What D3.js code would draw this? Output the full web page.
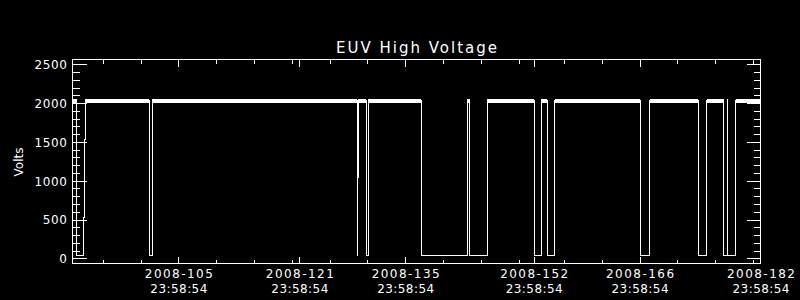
<!DOCTYPE html>
<html>
<head>
<meta charset="utf-8">
<script src="https://cdn.jsdelivr.net/npm/d3@7"></script>
<style>
  html, body { margin: 0; padding: 0; background: #000; }
  svg { display: block; }
  text { font-family: "DejaVu Sans", sans-serif; fill: #fff; }
</style>
</head>
<body>
<svg id="chart" width="800" height="300"></svg>
<script>
// ---- data (day-of-year 2008, fractional) ----
const title = "EUV High Voltage";
const yLabel = "Volts";
const stepTimes  = [92.0, 92.595, 93.429, 93.561, 93.694, 102.161, 102.558, 129.68, 129.70, 129.81,
                    130.873, 131.138, 138.150, 144.236, 144.554, 146.882, 153.101, 154.027, 154.821,
                    155.800, 167.125, 168.369, 174.799, 175.858, 178.107, 178.597, 178.663, 179.749, 183.0];
const stepValues = [2030, 40, 530, 1525, 2030, 40, 2030, 40, 1040, 2030,
                    40, 2030, 40, 2030, 40, 2030, 40, 2030, 40,
                    2030, 40, 2030, 40, 2030, 40, 2030, 40, 2030, 2030];
const bandLow = 2005, bandHigh = 2053;   // spread of the noisy high-voltage level
const xDomain = [92.0, 183.0];
const yDomain = [-67, 2562];
const xMajorTicks = [105.9993, 121.9993, 135.9993, 152.9993, 166.9993, 182.9993];
const xMajorLabels = ["2008-105", "2008-121", "2008-135", "2008-152", "2008-166", "2008-182"];
const xTimeLabel = "23:58:54";
const xMinorTicks = [96, 101, 106, 111, 116, 121, 126, 131, 136, 141, 146, 151, 157, 162, 167, 172, 177, 182];
const yMajorTicks = [0, 500, 1000, 1500, 2000, 2500];
const yMinorTicks = d3.range(0, 2501, 100).filter(v => v % 500 !== 0);

// ---- layout ----
const L = 72.5, R = 760.5, T = 59.5, B = 263.5;
const svg = d3.select("#chart");
svg.append("rect").attr("width", 800).attr("height", 300).attr("fill", "#000");

const x = d3.scaleLinear().domain(xDomain).range([L, R]);
const y = d3.scaleLinear().domain(yDomain).range([B, T]);

// ---- data ----
const pts = stepTimes.map((t, i) => ({ t, v: stepValues[i] }));
const bands = [];
for (let i = 0; i < pts.length - 1; i++) {
  if (pts[i].v >= 2000) bands.push({ t0: pts[i].t, t1: pts[i + 1].t });
}
svg.append("g").selectAll("rect").data(bands).join("rect")
  .attr("x", d => x(d.t0)).attr("width", d => Math.max(1, x(d.t1) - x(d.t0)))
  .attr("y", y(bandHigh)).attr("height", y(bandLow) - y(bandHigh))
  .attr("fill", "#fff").attr("shape-rendering", "crispEdges");

const line = d3.line().x(d => x(d.t)).y(d => y(d.v)).curve(d3.curveStepAfter);
svg.append("path").datum(pts).attr("d", line)
  .attr("fill", "none").attr("stroke", "#fff").attr("stroke-width", 1)
  .attr("shape-rendering", "crispEdges");

// ---- axes ----
function style(g) {
  g.select(".domain").remove();
  g.selectAll("line").attr("stroke", "#fff").attr("shape-rendering", "crispEdges");
  g.selectAll("text").remove();
}
// left
svg.append("g").attr("transform", `translate(${L},0)`)
  .call(d3.axisLeft(y).tickValues(yMinorTicks).tickSize(-7).tickSizeOuter(0)).call(style);
const gl = svg.append("g").attr("transform", `translate(${L},0)`)
  .call(d3.axisLeft(y).tickValues(yMajorTicks).tickFormat(d3.format("d")).tickSize(-14).tickSizeOuter(0));
gl.select(".domain").remove();
gl.selectAll("line").attr("stroke", "#fff").attr("shape-rendering", "crispEdges");
gl.selectAll("text").attr("x", -5).attr("dy", "0.36em")
  .attr("font-family", "DejaVu Sans").attr("font-size", 12).attr("fill", "#fff")
  .attr("letter-spacing", "0.6px");
// right
svg.append("g").attr("transform", `translate(${R},0)`)
  .call(d3.axisRight(y).tickValues(yMinorTicks).tickSize(-7).tickSizeOuter(0)).call(style);
svg.append("g").attr("transform", `translate(${R},0)`)
  .call(d3.axisRight(y).tickValues(yMajorTicks).tickSize(-14).tickSizeOuter(0)).call(style);
// top
svg.append("g").attr("transform", `translate(0,${T})`)
  .call(d3.axisTop(x).tickValues(xMinorTicks).tickSize(-4).tickSizeOuter(0)).call(style);
svg.append("g").attr("transform", `translate(0,${T})`)
  .call(d3.axisTop(x).tickValues(xMajorTicks).tickSize(-7).tickSizeOuter(0)).call(style);
// bottom
svg.append("g").attr("transform", `translate(0,${B})`)
  .call(d3.axisBottom(x).tickValues(xMinorTicks).tickSize(-4).tickSizeOuter(0)).call(style);
const gb = svg.append("g").attr("transform", `translate(0,${B})`)
  .call(d3.axisBottom(x).tickValues(xMajorTicks).tickSize(-7).tickSizeOuter(0));
gb.select(".domain").remove();
gb.selectAll("line").attr("stroke", "#fff").attr("shape-rendering", "crispEdges");
gb.selectAll("text").remove();
gb.selectAll(".tick").each(function (d, i) {
  const g = d3.select(this);
  g.append("text").attr("x", 0).attr("y", 14).attr("text-anchor", "middle")
    .attr("font-size", 12).attr("fill", "#fff")
    .attr("textLength", 68).attr("lengthAdjust", "spacing")
    .text(xMajorLabels[i]);
  g.append("text").attr("x", 0).attr("y", 29).attr("text-anchor", "middle")
    .attr("font-size", 12).attr("fill", "#fff")
    .attr("textLength", 57).attr("lengthAdjust", "spacing")
    .text(xTimeLabel);
});

// frame
svg.append("rect").attr("x", L).attr("y", T).attr("width", R - L).attr("height", B - T)
  .attr("fill", "none").attr("stroke", "#fff").attr("shape-rendering", "crispEdges");

// title & y label
svg.append("text").attr("x", (L + R) / 2).attr("y", 53).attr("text-anchor", "middle")
  .attr("font-size", 15).attr("textLength", 161).attr("lengthAdjust", "spacing").text(title);
svg.append("text").attr("transform", "translate(23,162) rotate(-90)").attr("text-anchor", "middle")
  .attr("font-size", 12).text(yLabel);
</script>
</body>
</html>
